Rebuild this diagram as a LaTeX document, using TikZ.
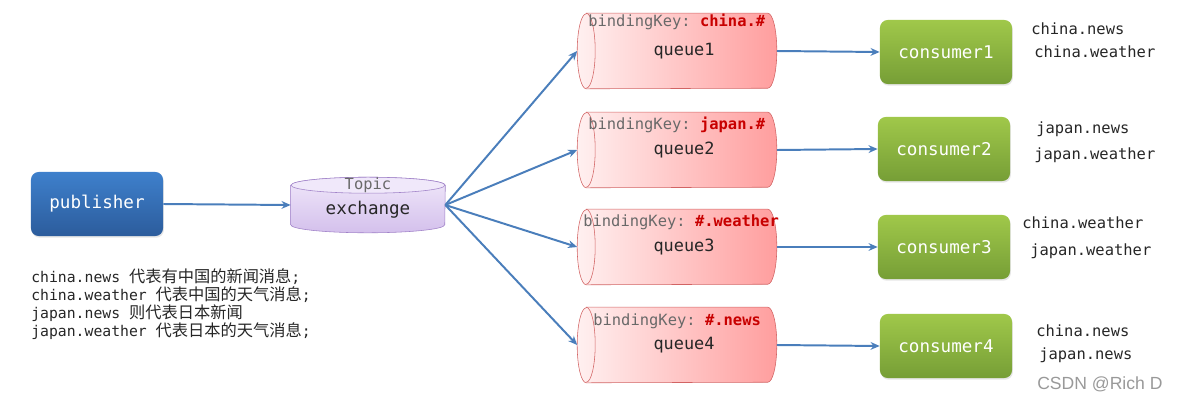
\documentclass[tikz,border=0pt]{standalone}
\usepackage{fontspec}
\setmonofont{DejaVu Sans Mono}
\newfontfamily\cjk[Scale=1.1]{Noto Sans CJK SC}
\newfontfamily\wmfont{Liberation Sans}
\usetikzlibrary{arrows.meta,shadows,backgrounds}

\definecolor{linkblue}{RGB}{74,126,187}
\definecolor{pubtop}{RGB}{62,128,204}
\definecolor{pubbot}{RGB}{44,92,156}
\definecolor{constop}{RGB}{160,200,74}
\definecolor{consbot}{RGB}{118,158,54}
\definecolor{queueleft}{RGB}{255,240,240}
\definecolor{queueright}{RGB}{255,158,158}
\definecolor{queueline}{RGB}{210,100,100}
\definecolor{exchtop}{RGB}{240,232,250}
\definecolor{exchbot}{RGB}{212,192,236}
\definecolor{exchline}{RGB}{160,130,200}
\definecolor{keyred}{RGB}{200,0,0}
\definecolor{keygray}{RGB}{105,105,105}

\tikzset{
  box/.style={rounded corners=5.5pt, minimum width=3.3cm, minimum height=1.6cm,
    inner sep=0pt, text=white, font=\ttfamily\fontsize{12.5}{14}\selectfont,
    drop shadow={opacity=0.2, shadow xshift=0.6pt, shadow yshift=-1.2pt}},
  pubbox/.style={box, top color=pubtop, bottom color=pubbot},
  consbox/.style={box, top color=constop, bottom color=consbot},
  queuebox/.style={minimum width=4.975cm, minimum height=1.875cm, inner sep=0pt,
    font=\ttfamily\fontsize{12}{14}\selectfont, text=black!85},
  keytext/.style={anchor=west, inner sep=0pt, text=keygray,
    font=\ttfamily\fontsize{11}{13}\selectfont},
  msg/.style={anchor=west, inner sep=0pt, text=black!85,
    font=\ttfamily\fontsize{11}{13}\selectfont},
  link/.style={draw=linkblue, line width=1.4pt, -{Stealth[length=6.5pt,width=5.5pt]}}
}

\begin{document}
\begin{tikzpicture}[x=0.025cm,y=-0.025cm]
\useasboundingbox (0,0) rectangle (1181,401);

% publisher and exchange
\node[pubbox] (pub) at (97,204) {publisher};
\node[minimum width=3.85cm, minimum height=1.375cm, inner sep=0pt] (exch) at (368,205) {};
\node[inner sep=0pt, text=keygray, font=\ttfamily\fontsize{11}{13}\selectfont] (topic) at (368,185) {Topic};
\node[inner sep=0pt, text=black!85, font=\ttfamily\fontsize{12.5}{14}\selectfont] (exname) at (368,210) {exchange};

% queues
\node[queuebox] (q1) at (677,51) {\hspace{10pt}queue1};
\node[queuebox] (q2) at (677,150) {\hspace{10pt}queue2};
\node[queuebox] (q3) at (677,247) {\hspace{10pt}queue3};
\node[queuebox] (q4) at (677,345) {\hspace{10pt}queue4};

% cylinder bodies
\begin{scope}[on background layer]
  \draw[exchline, top color=exchtop, bottom color=exchbot]
    ([yshift=-0.2cm]exch.north west) -- ([yshift=0.2cm]exch.south west)
    arc[start angle=180, end angle=360, x radius=1.925cm, y radius=0.2cm]
    -- ([yshift=-0.2cm]exch.north east)
    arc[start angle=0, end angle=180, x radius=1.925cm, y radius=0.2cm] -- cycle;
  \draw[exchline, fill=exchtop] ([yshift=-0.2cm]exch.north)
    ellipse[x radius=1.925cm, y radius=0.2cm];
  \foreach \i in {1,...,4}{
    \draw[queueline, left color=queueleft, right color=queueright]
      ([xshift=0.225cm]q\i.north west) -- ([xshift=-0.225cm]q\i.north east)
      arc[start angle=90, end angle=-90, x radius=0.225cm, y radius=0.9375cm]
      -- ([xshift=0.225cm]q\i.south west)
      arc[start angle=270, end angle=90, x radius=0.225cm, y radius=0.9375cm] -- cycle;
    \draw[queueline] ([xshift=0.225cm]q\i.north west)
      arc[start angle=90, end angle=-90, x radius=0.225cm, y radius=0.9375cm];
  }
\end{scope}

\node[keytext] (k1) at (588,22) {bindingKey: \textcolor{keyred}{\bfseries china.\#}};
\node[keytext] (k2) at (588,125) {bindingKey: \textcolor{keyred}{\bfseries japan.\#}};
\node[keytext] (k3) at (583,222) {bindingKey: \textcolor{keyred}{\bfseries \#.weather}};
\node[keytext] (k4) at (593,321) {bindingKey: \textcolor{keyred}{\bfseries \#.news}};

% consumers
\node[consbox] (c1) at (946,52) {consumer1};
\node[consbox] (c2) at (944,149) {consumer2};
\node[consbox] (c3) at (944,247) {consumer3};
\node[consbox] (c4) at (946,346) {consumer4};

\node[msg] (m1a) at (1031,29) {china.news};
\node[msg] (m1b) at (1034,52) {china.weather};
\node[msg] (m2a) at (1036,129) {japan.news};
\node[msg] (m2b) at (1034,155) {japan.weather};
\node[msg] (m3a) at (1022,223) {china.weather};
\node[msg] (m3b) at (1030,251) {japan.weather};
\node[msg] (m4a) at (1036,331) {china.news};
\node[msg] (m4b) at (1039,355) {japan.news};

% legend
\node[anchor=north west, inner sep=0pt, align=left, text=black!85,
  font=\ttfamily\fontsize{10.5}{13}\selectfont] (legend) at (31,268)
  {china.news {\cjk 代表有中国的新闻消息};\\
   china.weather {\cjk 代表中国的天气消息};\\
   japan.news {\cjk 则代表日本新闻}\\
   japan.weather {\cjk 代表日本的天气消息};};

\node[anchor=west, inner sep=0pt, text=black!40, font=\wmfont\fontsize{12.5}{14}\selectfont] (mark) at (1037,384) {CSDN @Rich D};

% links
\draw[link] (pub.east) -- (exch.west);
\foreach \i in {1,...,4}{
  \draw[link] (exch.east) -- (q\i.west);
  \draw[link] (q\i.east) -- (c\i.west);
}

\end{tikzpicture}
\end{document}
